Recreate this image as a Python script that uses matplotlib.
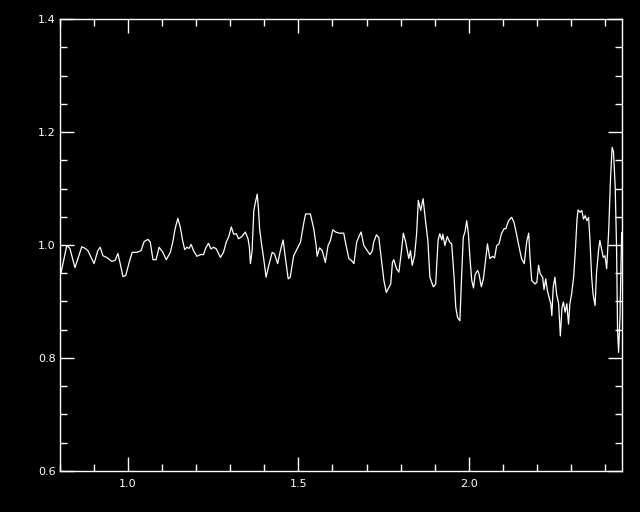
"""Normalised spectrum trace, IDL-style black plot"""
import numpy as np, matplotlib
matplotlib.use('Agg')
import matplotlib.pyplot as plt
from matplotlib.ticker import MultipleLocator

# ── data ──
wave = [0.803, 0.820, 0.829, 0.844, 0.864, 0.874, 0.882, 0.900, 0.911, 0.918,
        0.926, 0.937, 0.952, 0.962, 0.970, 0.976, 0.985, 0.993, 1.003, 1.012,
        1.026, 1.038, 1.047, 1.058, 1.065, 1.073, 1.082, 1.091, 1.102, 1.112,
        1.124, 1.131, 1.138, 1.146, 1.153, 1.160, 1.166, 1.173, 1.179, 1.185,
        1.192, 1.202, 1.212, 1.221, 1.229, 1.236, 1.243, 1.251, 1.259, 1.271,
        1.280, 1.288, 1.295, 1.303, 1.310, 1.318, 1.324, 1.334, 1.344, 1.352,
        1.356, 1.359, 1.364, 1.369, 1.374, 1.379, 1.383, 1.386, 1.391, 1.398,
        1.405, 1.413, 1.423, 1.430, 1.439, 1.447, 1.455, 1.462, 1.470, 1.476,
        1.486, 1.496, 1.506, 1.516, 1.521, 1.535, 1.545, 1.552, 1.555, 1.562,
        1.570, 1.579, 1.587, 1.594, 1.601, 1.609, 1.619, 1.633, 1.638, 1.648,
        1.655, 1.663, 1.671, 1.677, 1.684, 1.692, 1.702, 1.710, 1.717, 1.721,
        1.729, 1.736, 1.743, 1.751, 1.758, 1.766, 1.771, 1.776, 1.780, 1.788,
        1.795, 1.802, 1.808, 1.815, 1.824, 1.829, 1.834, 1.841, 1.847, 1.852,
        1.859, 1.866, 1.874, 1.880, 1.886, 1.896, 1.903, 1.910, 1.915, 1.921,
        1.924, 1.930, 1.937, 1.944, 1.950, 1.957, 1.962, 1.967, 1.974, 1.979,
        1.984, 1.989, 1.994, 1.999, 2.004, 2.009, 2.014, 2.019, 2.026, 2.030,
        2.037, 2.043, 2.050, 2.055, 2.062, 2.070, 2.076, 2.082, 2.089, 2.096,
        2.104, 2.109, 2.117, 2.126, 2.133, 2.140, 2.148, 2.155, 2.163, 2.170,
        2.176, 2.180, 2.185, 2.195, 2.200, 2.205, 2.210, 2.217, 2.221, 2.226,
        2.231, 2.236, 2.241, 2.244, 2.248, 2.253, 2.258, 2.264, 2.269, 2.274,
        2.278, 2.283, 2.288, 2.293, 2.297, 2.302, 2.308, 2.313, 2.318, 2.321,
        2.327, 2.332, 2.337, 2.342, 2.347, 2.352, 2.356, 2.361, 2.365, 2.371,
        2.375, 2.381, 2.385, 2.390, 2.395, 2.400, 2.405, 2.411, 2.416, 2.421,
        2.425, 2.430, 2.434, 2.437, 2.440, 2.444, 2.449]
flux = [0.951, 0.999, 0.994, 0.960, 0.997, 0.994, 0.990, 0.967, 0.990, 0.996,
        0.981, 0.978, 0.971, 0.973, 0.985, 0.969, 0.944, 0.946, 0.969, 0.987,
        0.987, 0.990, 1.006, 1.010, 1.005, 0.974, 0.974, 0.996, 0.987, 0.974,
        0.987, 1.005, 1.029, 1.047, 1.032, 1.008, 0.992, 0.996, 0.994, 1.001,
        0.990, 0.980, 0.983, 0.983, 0.996, 1.003, 0.993, 0.996, 0.993, 0.978,
        0.987, 1.005, 1.014, 1.032, 1.019, 1.020, 1.011, 1.015, 1.023, 1.011,
        0.996, 0.967, 0.990, 1.061, 1.076, 1.090, 1.061, 1.029, 1.005, 0.976,
        0.943, 0.964, 0.987, 0.984, 0.967, 0.990, 1.009, 0.976, 0.940, 0.943,
        0.981, 0.993, 1.005, 1.040, 1.055, 1.055, 1.029, 0.999, 0.980, 0.995,
        0.990, 0.969, 0.999, 1.008, 1.027, 1.023, 1.021, 1.021, 1.005, 0.976,
        0.973, 0.967, 1.005, 1.014, 1.023, 0.999, 0.990, 0.983, 0.990, 1.005,
        1.018, 1.013, 0.978, 0.937, 0.916, 0.925, 0.931, 0.969, 0.974, 0.958,
        0.952, 0.987, 1.021, 1.005, 0.976, 0.990, 0.964, 0.981, 1.020, 1.079,
        1.061, 1.082, 1.038, 1.008, 0.943, 0.926, 0.931, 1.008, 1.020, 1.009,
        1.019, 0.999, 1.015, 1.005, 1.002, 0.943, 0.890, 0.872, 0.866, 0.943,
        1.014, 1.023, 1.043, 1.020, 0.973, 0.937, 0.924, 0.948, 0.955, 0.949,
        0.926, 0.940, 0.976, 1.002, 0.976, 0.980, 0.977, 0.999, 1.002, 1.020,
        1.029, 1.029, 1.043, 1.049, 1.040, 1.020, 0.996, 0.976, 0.967, 1.005,
        1.021, 0.978, 0.937, 0.931, 0.934, 0.964, 0.949, 0.943, 0.921, 0.940,
        0.919, 0.907, 0.896, 0.875, 0.925, 0.943, 0.913, 0.896, 0.839, 0.890,
        0.899, 0.881, 0.896, 0.860, 0.896, 0.913, 0.943, 0.990, 1.046, 1.062,
        1.058, 1.061, 1.046, 1.052, 1.043, 1.049, 1.008, 0.943, 0.913, 0.893,
        0.949, 0.990, 1.008, 0.993, 0.978, 0.981, 0.958, 1.026, 1.114, 1.173,
        1.165, 1.103, 0.996, 0.848, 0.810, 0.872, 1.022]

fig = plt.figure(figsize=(6.4, 5.12), dpi=100, facecolor='black')
ax = fig.add_axes([60/640, 41/512, 562/640, 452/512], facecolor='black')
ax.plot(wave, flux, color='white', lw=0.9)

ax.set_xlim(0.8, 2.45); ax.set_ylim(0.6, 1.4)
ax.xaxis.set_major_locator(MultipleLocator(0.5)); ax.xaxis.set_minor_locator(MultipleLocator(0.1))
ax.yaxis.set_major_locator(MultipleLocator(0.2)); ax.yaxis.set_minor_locator(MultipleLocator(0.05))
ax.xaxis.set_major_formatter(matplotlib.ticker.FormatStrFormatter('%.1f'))
ax.yaxis.set_major_formatter(matplotlib.ticker.FormatStrFormatter('%.1f'))
for s in ax.spines.values(): s.set_color('white'); s.set_linewidth(1.0)
ax.tick_params(which='both', direction='in', top=True, right=True, colors='white', width=1.0, labelsize=8)
ax.tick_params(which='major', length=10)
ax.tick_params(which='minor', length=5)
ax.tick_params(axis='x', pad=6); ax.tick_params(axis='y', pad=3)

plt.savefig('out.png', dpi=100, facecolor='black')
plt.close()
